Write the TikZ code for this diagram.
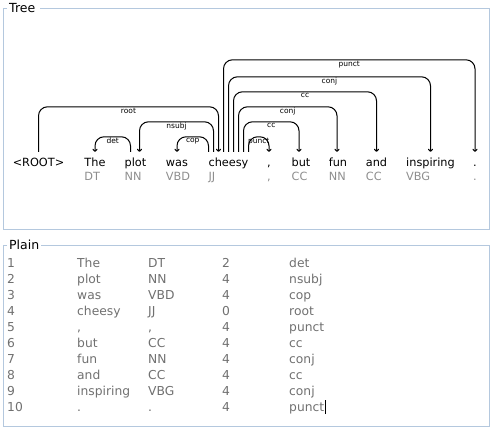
\documentclass[tikz,border=0pt]{standalone}
\usepackage{fontspec}
\setmainfont{DejaVu Sans}
\usetikzlibrary{arrows.meta,calc}
\definecolor{framecol}{HTML}{B4C8DE}
\definecolor{posgray}{HTML}{8E8E8E}
\definecolor{tabgray}{HTML}{707070}
\def\tcomma{,}
\begin{document}
\begin{tikzpicture}[x=1pt,y=-1pt,
  word/.style={font=\fontsize{11.3}{13}\selectfont, inner sep=0pt, text height=14pt, text depth=3pt, anchor=base},
  postag/.style={font=\fontsize{11.3}{13}\selectfont, text=posgray, inner sep=0pt, anchor=base west},
  deparc/.style={draw=black, line width=1pt, rounded corners=9pt, -{To[length=3pt,width=5pt]}},
  arclabel/.style={font=\fontsize{7.5}{8}\selectfont, inner sep=0.6pt, below, pos=0.25},
  paneltitle/.style={font=\fontsize{12.5}{14}\selectfont, inner sep=0pt, anchor=base west},
  cell/.style={font=\fontsize{12.3}{14}\selectfont, text=tabgray, inner sep=0pt, anchor=base west},
  framebox/.style={draw=framecol, line width=1pt}]
\useasboundingbox (0,0) rectangle (494,431);

% panels
\node[paneltitle] (ttree) at (9,12.5) {Tree};
\node[paneltitle] (tplain) at (9,249.5) {Plain};
\draw[framebox] (7,8) -- (3,8) -- (3,229.5) -- (489,229.5) -- (489,8) -- (40,8);
\draw[framebox] (7,245) -- (3,245) -- (3,426) -- (489,426) -- (489,245) -- (41,245);

% words
\node[word] (w0) at (38.5,166) {<ROOT>};
\node[word] (w1) at (95,166) {The};
\node[word] (w2) at (135.5,166) {plot};
\node[word] (w3) at (177,166) {was};
\node[word] (w4) at (228.5,166) {cheesy};
\node[word] (w5) at (269,166) {,};
\node[word] (w6) at (301,166) {but};
\node[word] (w7) at (338,166) {fun};
\node[word] (w8) at (376.5,166) {and};
\node[word] (w9) at (430.5,166) {inspiring};
\node[word] (w10) at (475,166) {.};

% POS tags
\node[postag] (p1) at ([yshift=-14pt]w1.base west) {DT};
\node[postag] (p2) at ([yshift=-14pt]w2.base west) {NN};
\node[postag] (p3) at ([yshift=-14pt]w3.base west) {VBD};
\node[postag] (p4) at ([yshift=-14pt]w4.base west) {JJ};
\node[postag] (p5) at ([yshift=-14pt]w5.base west) {,};
\node[postag] (p6) at ([yshift=-14pt]w6.base west) {CC};
\node[postag] (p7) at ([yshift=-14pt]w7.base west) {NN};
\node[postag] (p8) at ([yshift=-14pt]w8.base west) {CC};
\node[postag] (p9) at ([yshift=-14pt]w9.base west) {VBG};
\node[postag] (p10) at ([yshift=-14pt]w10.base west) {.};

% dependency arcs
\draw[deparc] (w0.north) -- ++(0,-45) -| node[arclabel]{root} ([xshift=-10pt]w4.north);
\draw[deparc] ([xshift=-5pt]w2.north) -- ++(0,-15) -| node[arclabel]{det} (w1.north);
\draw[deparc] ([xshift=-15pt]w4.north) -- ++(0,-30) -| node[arclabel]{nsubj} ([xshift=4pt]w2.north);
\draw[deparc] ([xshift=-20pt]w4.north) -- ++(0,-15) -| node[arclabel]{cop} (w3.north);
\draw[deparc] ([xshift=20pt]w4.north) -- ++(0,-15) -| node[arclabel]{punct} (w5.north);
\draw[deparc] ([xshift=15pt]w4.north) -- ++(0,-30) -| node[arclabel]{cc} ([xshift=-2pt]w6.north);
\draw[deparc] ([xshift=10pt]w4.north) -- ++(0,-45) -| node[arclabel]{conj} ([xshift=-1pt]w7.north);
\draw[deparc] ([xshift=5pt]w4.north) -- ++(0,-60) -| node[arclabel]{cc} (w8.north);
\draw[deparc] (w4.north) -- ++(0,-75) -| node[arclabel]{conj} (w9.north);
\draw[deparc] ([xshift=-5pt]w4.north) -- ++(0,-92) -| node[arclabel]{punct} (w10.north);

% plain table
\foreach \i/\a/\b/\c/\d in {1/The/DT/2/det, 2/plot/NN/4/nsubj, 3/was/VBD/4/cop,
  4/cheesy/JJ/0/root, 5/\tcomma/\tcomma/4/punct, 6/but/CC/4/cc, 7/fun/NN/4/conj,
  8/and/CC/4/cc, 9/inspiring/VBG/4/conj}{
  \node[cell] (n-\i-1) at (7,{267+16*(\i-1)}) {\i};
  \node[cell] (n-\i-2) at (77,{267+16*(\i-1)}) {\a};
  \node[cell] (n-\i-3) at (148,{267+16*(\i-1)}) {\b};
  \node[cell] (n-\i-4) at (222,{267+16*(\i-1)}) {\c};
  \node[cell] (n-\i-5) at (289,{267+16*(\i-1)}) {\d};
}
\node[cell] (n-10-1) at (7,411) {10};
\node[cell] (n-10-2) at (77,411) {.};
\node[cell] (n-10-3) at (148,411) {.};
\node[cell] (n-10-4) at (222,411) {4};
\node[cell] (n-10-5) at (289,411) {punct};
\draw[black, line width=0.8pt] ([xshift=1pt,yshift=-3pt]n-10-5.base east) -- ++(0,-14);
\end{tikzpicture}
\end{document}
